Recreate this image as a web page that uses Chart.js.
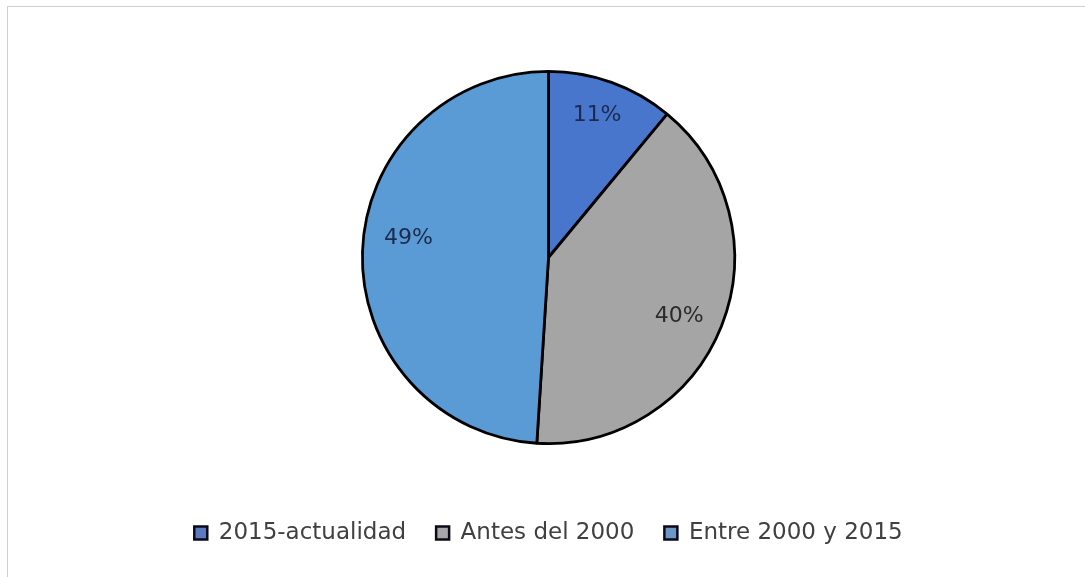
<!DOCTYPE html>
<html>
<head>
<meta charset="utf-8">
<script src="https://cdn.jsdelivr.net/npm/chart.js@4/dist/chart.umd.min.js"></script>
<style>
  html, body { margin: 0; padding: 0; background: #fff; }
  #wrap { position: relative; width: 1085px; height: 577px; }
  #frame { position: absolute; left: 7px; top: 6px; width: 1100px; height: 600px;
           border-left: 1px solid #cfcfcf; border-top: 1px solid #cfcfcf; }
  canvas { position: absolute; left: 0; top: 0; }
</style>
</head>
<body>
<div id="wrap">
  <div id="frame"></div>
  <canvas id="c" width="1085" height="577"></canvas>
</div>
<script>
const categories = ['2015-actualidad', 'Antes del 2000', 'Entre 2000 y 2015'];
const values = [11, 40, 49];
const labelsText = ['11%', '40%', '49%'];
const sliceColors = ['#4876CC', '#A5A5A5', '#5B9BD5'];
const legendColors = ['#5c7ac0', '#a7a7a7', '#6d97c8'];
const labelColors = ['#1b2a4e', '#2b2b2b', '#1b2a4e'];

const FONT = "'DejaVu Sans', 'Liberation Sans', sans-serif";

const pctLabels = {
  id: 'pctLabels',
  afterDatasetsDraw(chart, args, opts) {
    const ctx = chart.ctx;
    const meta = chart.getDatasetMeta(0);
    ctx.save();
    ctx.font = '22px ' + FONT;
    ctx.textAlign = 'center';
    ctx.textBaseline = 'middle';
    meta.data.forEach((arc, i) => {
      const p = arc.getProps(['x', 'y', 'startAngle', 'endAngle', 'outerRadius']);
      const a = (p.startAngle + p.endAngle) / 2 + (opts.angleNudge[i] || 0) * Math.PI / 180;
      const r = p.outerRadius * opts.radial[i];
      ctx.fillStyle = labelColors[i];
      ctx.fillText(labelsText[i], p.x + Math.cos(a) * r, p.y + Math.sin(a) * r);
    });
    ctx.restore();
  }
};

new Chart(document.getElementById('c'), {
  type: 'pie',
  data: {
    labels: categories,
    datasets: [{
      data: values,
      backgroundColor: sliceColors,
      borderColor: '#000000',
      borderWidth: 2.8
    }]
  },
  options: {
    responsive: false,
    animation: false,
    layout: { padding: { top: 70, bottom: 22.5, left: 12, right: 0 } },
    plugins: {
      tooltip: { enabled: false },
      pctLabels: { angleNudge: [-1, 2.7, 5.9], radial: [0.81, 0.77, 0.76] },
      legend: {
        display: true,
        position: 'bottom',
        align: 'center',
        title: { display: true, text: ' ', font: { size: 10, lineHeight: 1 }, padding: { top: 36.5, bottom: 0 } },
        labels: {
          color: '#404040',
          font: { size: 23, family: FONT },
          boxWidth: 13,
          boxHeight: 13,
          padding: 30,
          generateLabels(chart) {
            return categories.map((c, i) => ({
              text: c,
              fillStyle: legendColors[i],
              strokeStyle: '#0a0a1a',
              lineWidth: 2.5,
              hidden: false,
              index: i,
              fontColor: '#404040'
            }));
          }
        }
      }
    }
  },
  plugins: [pctLabels]
});
</script>
</body>
</html>
